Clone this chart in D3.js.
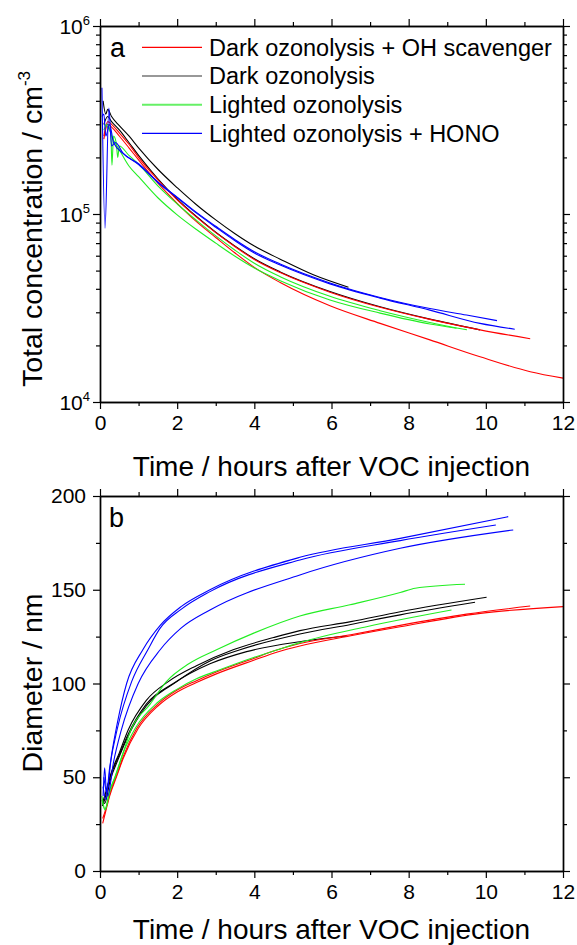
<!DOCTYPE html>
<html>
<head>
<meta charset="utf-8">
<script src="https://cdn.jsdelivr.net/npm/d3@7"></script>
<style>
body { margin: 0; background: #fff; }
text { font-family: "Liberation Sans", Arial, sans-serif; fill: #000; }
</style>
</head>
<body>
<svg id="chart"></svg>
<script>

// legend / series info
var seriesNames = ["Dark ozonolysis + OH scavenger", "Dark ozonolysis", "Lighted ozonolysis", "Lighted ozonolysis + HONO"];
var seriesColors = ["#ff0000", "#000000", "#22ee22", "#0000ff"];
var legendColors = ["#ff0000", "#333333", "#66f066", "#0000ff"];

// axis ticks
var timeMajor = [0, 2, 4, 6, 8, 10, 12];
var timeMinor = [1, 3, 5, 7, 9, 11];
var concMajor = [1e4, 1e5, 1e6];
var concMinor = [2e4, 3e4, 4e4, 5e4, 6e4, 7e4, 8e4, 9e4, 2e5, 3e5, 4e5, 5e5, 6e5, 7e5, 8e5, 9e5];
var diamMajor = [0, 50, 100, 150, 200];
var diamMinor = [25, 75, 125, 175];

// panel a : total concentration (cm-3) against time (h)
var tRedA1 = [0.1, 0.2, 0.3, 0.5, 0.75, 1, 1.5, 2, 2.5, 3, 3.5, 4, 4.67, 5.96, 7.26, 8.55, 9.85, 11.15];
var nRedA1 = [2.6e5, 3.1e5, 3.0e5, 2.7e5, 2.35e5, 2.0e5, 1.52e5, 1.19e5, 9.62e4, 7.96e4, 6.7e4, 5.73e4, 4.88e4, 3.84e4, 3.19e4, 2.75e4, 2.42e4, 2.17e4];
var tRedA2 = [0.1, 0.2, 0.3, 0.5, 0.75, 1, 1.5, 2, 2.5, 3, 3.5, 4, 4.67, 5.96, 7.26, 8.55, 9.85, 11.15, 12];
var nRedA2 = [2.5e5, 3.0e5, 2.9e5, 2.6e5, 2.25e5, 1.94e5, 1.46e5, 1.14e5, 9.1e4, 7.5e4, 6.2e4, 5.2e4, 4.32e4, 3.25e4, 2.62e4, 2.14e4, 1.74e4, 1.45e4, 1.34e4];
var tBlackA1 = [0.08, 0.15, 0.2, 0.3, 0.5, 0.75, 1, 1.5, 2, 2.5, 3, 3.5, 4, 4.67, 5.53, 6.44];
var nBlackA1 = [4.0e5, 3.4e5, 3.6e5, 3.3e5, 2.95e5, 2.6e5, 2.25e5, 1.73e5, 1.38e5, 1.12e5, 9.3e4, 7.85e4, 6.75e4, 5.75e4, 4.75e4, 4.08e4];
var tBlackA2 = [0.1, 0.2, 0.3, 0.5, 0.75, 1, 1.5, 2, 2.5, 3, 3.5, 4, 4.67, 5.96, 7.26, 8.55, 9.85];
var nBlackA2 = [3.0e5, 3.3e5, 3.1e5, 2.8e5, 2.4e5, 2.05e5, 1.54e5, 1.2e5, 9.7e4, 8.0e4, 6.75e4, 5.78e4, 4.92e4, 3.87e4, 3.21e4, 2.76e4, 2.42e4];
var tGreenA1 = [0.1, 0.2, 0.28, 0.31, 0.35, 0.42, 0.46, 0.5, 0.75, 1, 1.5, 2, 2.5, 3, 3.5, 4, 4.67, 5.96, 7.26, 8.55, 9.51];
var nGreenA1 = [3.0e5, 2.9e5, 2.7e5, 1.82e5, 2.6e5, 2.4e5, 2.0e5, 2.3e5, 2.05e5, 1.84e5, 1.41e5, 1.13e5, 9.25e4, 7.65e4, 6.42e4, 5.47e4, 4.64e4, 3.65e4, 3.06e4, 2.65e4, 2.42e4];
var tGreenA2 = [0.1, 0.2, 0.3, 0.5, 0.75, 1, 1.5, 2, 2.5, 3, 3.5, 4, 4.67, 5.96, 7.26, 8.55, 9.24];
var nGreenA2 = [2.8e5, 3.0e5, 2.6e5, 2.2e5, 1.8e5, 1.58e5, 1.22e5, 9.9e4, 8.27e4, 7.0e4, 5.96e4, 5.16e4, 4.42e4, 3.49e4, 2.97e4, 2.6e4, 2.47e4];
var tBlueA1 = [0.05, 0.13, 0.23, 0.3, 0.4, 0.6, 1, 1.5, 2, 2.5, 3, 3.5, 4, 4.67, 5.96, 7.26, 8.55, 9.5, 10.29];
var nBlueA1 = [4.7e5, 8.4e4, 3.66e5, 2.3e5, 2.4e5, 2.1e5, 1.85e5, 1.48e5, 1.23e5, 1.02e5, 8.6e4, 7.3e4, 6.3e4, 5.42e4, 4.3e4, 3.6e4, 3.14e4, 2.9e4, 2.71e4];
var tBlueA2 = [0.05, 0.1, 0.15, 0.25, 0.35, 0.6, 1, 1.5, 2, 2.5, 3, 3.5, 4, 4.67, 5.96, 7.26, 8.55, 9.85, 10.75];
var nBlueA2 = [3.3e5, 3.4e5, 2.6e5, 3.0e5, 2.4e5, 2.1e5, 1.83e5, 1.47e5, 1.22e5, 1.01e5, 8.5e4, 7.2e4, 6.2e4, 5.35e4, 4.25e4, 3.57e4, 3.08e4, 2.62e4, 2.44e4];

// panel b : diameter (nm) against time (h)
var tRedB1 = [0.07, 0.15, 0.25, 0.43, 0.6, 0.99, 1.5, 2, 2.5, 3, 4, 4.6, 5.18, 6.5, 7.78, 9.86, 12];
var dRedB1 = [25.4, 32, 40, 50.3, 60, 76, 88, 95.5, 100.5, 105, 112.5, 116.8, 120, 125.5, 130.3, 137.4, 141];
var tRedB2 = [0.07, 0.15, 0.25, 0.43, 0.6, 0.95, 1.5, 2, 2.5, 3, 4, 4.5, 5.18, 6.5, 7.78, 9.5, 11.15];
var dRedB2 = [28, 33, 41, 51, 61, 76, 89, 96.5, 101.5, 106, 113.5, 117.3, 121.3, 126, 131, 137, 141.3];
var tBlackB1 = [0.06, 0.12, 0.26, 0.5, 0.73, 1.2, 1.77, 2.5, 3.45, 4.5, 5.18, 6.5, 7.78, 10.02];
var dBlackB1 = [34.7, 38, 50.3, 63, 75.2, 91, 101, 109.5, 118, 124.5, 128.2, 133, 138.3, 146];
var tBlackB2 = [0.06, 0.12, 0.26, 0.5, 0.73, 1.2, 1.99, 2.85, 3.63, 5.18, 6.5, 7.78, 9.72];
var dBlackB2 = [38, 36, 48, 61, 72, 88, 101, 112, 118, 126.4, 131.5, 136.6, 143.3];
var tBlackB3 = [0.06, 0.12, 0.26, 0.5, 0.73, 1.2, 1.9, 2.85, 3.8, 5.18, 6.39];
var dBlackB3 = [36, 40, 50, 62, 73, 89, 100, 110.5, 117, 122.3, 125.3];
var tGreenB1 = [0.05, 0.13, 0.25, 0.39, 0.6, 0.8, 1.3, 1.72, 2.3, 3.02, 4, 5.18, 6.48, 7.78, 8.17, 9.46];
var dGreenB1 = [40, 33, 43, 50, 63, 75.2, 89, 101, 110.5, 118, 127, 136, 142, 148.5, 150.8, 152.9];
var tGreenB2 = [0.05, 0.13, 0.25, 0.39, 0.6, 0.91, 1.5, 2, 2.5, 3, 4, 4.6, 5.18, 6.91, 9.11];
var dGreenB2 = [38, 32.5, 42, 50.3, 63, 76, 90, 97, 102.5, 106.5, 114, 118, 121.8, 130.3, 139.2];
var tBlueB1 = [0.08, 0.12, 0.17, 0.3, 0.45, 0.69, 1.11, 1.56, 2.1, 2.85, 5.18, 7.78, 10.58];
var dBlueB1 = [40, 55, 42, 62, 79, 100, 118, 131, 141, 150, 167.3, 177.4, 189];
var tBlueB2 = [0.08, 0.15, 0.25, 0.45, 0.82, 1.24, 1.56, 2.1, 2.85, 5.18, 7.78, 10.26];
var dBlueB2 = [45, 38, 55, 76, 101, 118, 129.5, 139.5, 149, 165.9, 176.2, 184.5];
var tBlueB3 = [0.1, 0.2, 0.35, 0.55, 0.99, 1.56, 2.1, 2.85, 5.18, 7.78, 10.71];
var dBlueB3 = [50, 40, 58, 75, 100, 118, 129.5, 139.2, 157.9, 172.1, 181.9];

var width = 577;
var height = 945;
var left = 100, right = 563;

var svg = d3.select("#chart")
  .attr("width", width)
  .attr("height", height);

var xScale = d3.scaleLinear().domain([0, 12]).range([left, right]);
var yConc = d3.scaleLog().domain([1e4, 1e6]).range([402, 26]);
var yDiam = d3.scaleLinear().domain([0, 200]).range([871, 496]);

// one run as a thin line
function drawRun(g, yScale, times, values, color) {
  var pts = times.map(function(t, i) { return {t: t, v: values[i]}; });
  var line = d3.line()
    .x(function(d) { return xScale(d.t); })
    .y(function(d) { return yScale(d.v); })
    .curve(d3.curveMonotoneX);
  g.append("path")
    .datum(pts)
    .attr("fill", "none")
    .attr("stroke", color)
    .attr("stroke-width", 1.1)
    .attr("stroke-linejoin", "round")
    .attr("d", line);
}

// frame, ticks on all four sides pointing out
function drawFrame(yScale, yMajor, yMinor, showYLabels) {
  var y0 = yScale.range()[0], y1 = yScale.range()[1];
  var g = svg.append("g").attr("class", "frame");

  var bottomMaj = d3.axisBottom(xScale).tickValues(timeMajor).tickSize(7).tickPadding(6).tickSizeOuter(0);
  var bottomMin = d3.axisBottom(xScale).tickValues(timeMinor).tickSize(4).tickFormat("").tickSizeOuter(0);
  var topMaj = d3.axisTop(xScale).tickValues(timeMajor).tickSize(7).tickFormat("").tickSizeOuter(0);
  var topMin = d3.axisTop(xScale).tickValues(timeMinor).tickSize(4).tickFormat("").tickSizeOuter(0);
  var leftMaj = d3.axisLeft(yScale).tickValues(yMajor).tickSize(7).tickPadding(7).tickSizeOuter(0);
  var leftMin = d3.axisLeft(yScale).tickValues(yMinor).tickSize(4).tickFormat("").tickSizeOuter(0);
  var rightMaj = d3.axisRight(yScale).tickValues(yMajor).tickSize(7).tickFormat("").tickSizeOuter(0);
  var rightMin = d3.axisRight(yScale).tickValues(yMinor).tickSize(4).tickFormat("").tickSizeOuter(0);

  if (!showYLabels) leftMaj.tickFormat("");

  g.append("g").attr("transform", "translate(0," + y0 + ")").call(bottomMaj);
  g.append("g").attr("transform", "translate(0," + y0 + ")").call(bottomMin);
  g.append("g").attr("transform", "translate(0," + y1 + ")").call(topMaj);
  g.append("g").attr("transform", "translate(0," + y1 + ")").call(topMin);
  g.append("g").attr("transform", "translate(" + left + ",0)").call(leftMaj);
  g.append("g").attr("transform", "translate(" + left + ",0)").call(leftMin);
  g.append("g").attr("transform", "translate(" + right + ",0)").call(rightMaj);
  g.append("g").attr("transform", "translate(" + right + ",0)").call(rightMin);

  g.selectAll(".domain").attr("stroke", "#000").attr("stroke-width", 1.4);
  g.selectAll(".tick line").attr("stroke", "#000").attr("stroke-width", 1.2);
  g.selectAll(".tick text")
    .style("font-size", "21px")
    .style("font-family", "'Liberation Sans', Arial, sans-serif");
  return g;
}

// ---------- panel a ----------
var gA = svg.append("g");
drawRun(gA, yConc, tBlackA1, nBlackA1, seriesColors[1]);
drawRun(gA, yConc, tBlackA2, nBlackA2, seriesColors[1]);
drawRun(gA, yConc, tRedA1, nRedA1, seriesColors[0]);
drawRun(gA, yConc, tRedA2, nRedA2, seriesColors[0]);
drawRun(gA, yConc, tGreenA1, nGreenA1, seriesColors[2]);
drawRun(gA, yConc, tGreenA2, nGreenA2, seriesColors[2]);
drawRun(gA, yConc, tBlueA1, nBlueA1, seriesColors[3]);
drawRun(gA, yConc, tBlueA2, nBlueA2, seriesColors[3]);

drawFrame(yConc, concMajor, concMinor, false);

// log labels 10^n
svg.selectAll(".logLabel")
  .data(concMajor)
  .enter()
  .append("text")
  .attr("class", "logLabel")
  .attr("x", 90)
  .attr("y", function(d) { return yConc(d); })
  .attr("dy", "0.4em")
  .attr("text-anchor", "end")
  .style("font-size", "21px")
  .each(function(d) {
    var t = d3.select(this);
    t.append("tspan").text("10");
    t.append("tspan").attr("dy", -9).style("font-size", "13px").text(Math.round(Math.log10(d)));
  });

// legend
var legend = svg.append("g").attr("class", "legend");
seriesNames.forEach(function(name, i) {
  var ly = 47.3 + i * 28.7;
  legend.append("line")
    .attr("x1", 142).attr("x2", 202)
    .attr("y1", ly).attr("y2", ly)
    .attr("stroke", legendColors[i])
    .attr("stroke-width", i == 2 ? 2 : 1.2);
  legend.append("text")
    .attr("x", 209)
    .attr("y", ly)
    .attr("dy", "0.35em")
    .style("font-size", "23.5px")
    .text(name);
});

svg.append("text")
  .attr("x", 110).attr("y", 57)
  .style("font-size", "27px")
  .text("a");

svg.append("text")
  .attr("x", (left + right) / 2).attr("y", 476)
  .attr("text-anchor", "middle")
  .style("font-size", "28px")
  .text("Time / hours after VOC injection");

var yTitleA = svg.append("text")
  .attr("transform", "rotate(-90)")
  .attr("x", -229).attr("y", 42)
  .attr("text-anchor", "middle")
  .style("font-size", "28.5px");
yTitleA.append("tspan").text("Total concentration / cm");
yTitleA.append("tspan").attr("dy", -12).style("font-size", "17px").text("-3");

// ---------- panel b ----------
var gB = svg.append("g");
drawRun(gB, yDiam, tBlackB1, dBlackB1, seriesColors[1]);
drawRun(gB, yDiam, tBlackB2, dBlackB2, seriesColors[1]);
drawRun(gB, yDiam, tBlackB3, dBlackB3, seriesColors[1]);
drawRun(gB, yDiam, tRedB1, dRedB1, seriesColors[0]);
drawRun(gB, yDiam, tRedB2, dRedB2, seriesColors[0]);
drawRun(gB, yDiam, tGreenB1, dGreenB1, seriesColors[2]);
drawRun(gB, yDiam, tGreenB2, dGreenB2, seriesColors[2]);
drawRun(gB, yDiam, tBlueB1, dBlueB1, seriesColors[3]);
drawRun(gB, yDiam, tBlueB2, dBlueB2, seriesColors[3]);
drawRun(gB, yDiam, tBlueB3, dBlueB3, seriesColors[3]);

drawFrame(yDiam, diamMajor, diamMinor, true);

svg.append("text")
  .attr("x", 109).attr("y", 527)
  .style("font-size", "27px")
  .text("b");

svg.append("text")
  .attr("x", (left + right) / 2).attr("y", 939)
  .attr("text-anchor", "middle")
  .style("font-size", "28px")
  .text("Time / hours after VOC injection");

svg.append("text")
  .attr("transform", "rotate(-90)")
  .attr("x", -683).attr("y", 42)
  .attr("text-anchor", "middle")
  .style("font-size", "28.5px")
  .text("Diameter / nm");

</script>
</body>
</html>
